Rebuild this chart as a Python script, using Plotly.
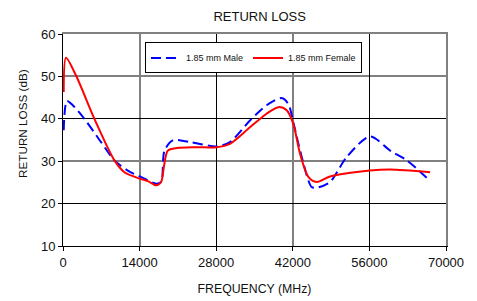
import plotly.graph_objects as go

# Data
freq_male = [130, 730, 1780, 3910, 6960, 9400, 11840, 14890, 17020, 17930, 18550, 20080,
             23190, 28070, 30500, 34170, 37220, 39960, 41180, 42090, 43630, 45450, 46370,
             48800, 51860, 56130, 59790, 62840, 67100]
rl_male = [37.3, 44.2, 43.2, 40.0, 34.5, 30.2, 27.8, 25.9, 24.7, 25.1, 32.5, 34.9,
           34.5, 33.5, 34.5, 39.6, 43.2, 44.9, 43.5, 39.2, 31.0, 23.9, 23.75,
           25.1, 31.0, 35.85, 32.5, 30.2, 25.3]

freq_female = [130, 550, 2380, 5740, 9400, 11230, 13980, 15500, 17020, 17930, 18430, 19160,
               20870, 24000, 28070, 30500, 34170, 37220, 39350, 40880, 42090, 43320, 44840,
               46370, 48800, 56130, 59790, 67100]
rl_female = [46.3, 54.4, 50.2, 40.0, 30.2, 27.4, 25.9, 25.3, 24.3, 25.1, 28.6, 32.5,
             33.1, 33.3, 33.3, 34.1, 38.0, 41.2, 42.75, 42.0, 38.8, 31.8, 26.3,
             25.1, 26.4, 27.8, 28.05, 27.4]

x_ticks = [0, 14000, 28000, 42000, 56000, 70000]
x_labels = ["0", "14000", "28000", "42000", "56000", "70000"]
y_ticks = [10, 20, 30, 40, 50, 60]
x_gray = [14000, 42000]
x_black = [28000, 56000]
y_gray = [30, 50]
y_black = [20, 40]
x_range = [0, 70000]
y_range = [10, 60]

FONT = "Liberation Sans, Arial, sans-serif"
TXT = "#111111"

fig = go.Figure()
# empty helper traces so the overlay grid axes are drawn
fig.add_trace(go.Scatter(x=[None], y=[None], xaxis="x2", yaxis="y2", showlegend=False,
                         hoverinfo="skip", mode="lines"))
fig.add_trace(go.Scatter(x=[None], y=[None], xaxis="x3", yaxis="y3", showlegend=False,
                         hoverinfo="skip", mode="lines"))
fig.add_trace(go.Scatter(x=freq_male, y=rl_male, name="1.85 mm Male", mode="lines",
                         line=dict(color="#0000ff", width=2, dash="10px,5px",
                                   shape="spline", smoothing=0.8)))
fig.add_trace(go.Scatter(x=freq_female, y=rl_female, name="1.85 mm Female", mode="lines",
                         line=dict(color="#ff0000", width=2, shape="spline", smoothing=0.8)))

fig.update_layout(
    width=469, height=293,
    margin=dict(l=55, r=31, t=25.5, b=55.3, autoexpand=False),
    paper_bgcolor="white", plot_bgcolor="white",
    font=dict(family=FONT, size=13, color=TXT),
    title=dict(text="RETURN LOSS", x=0.5367, xanchor="center",
               y=0.971, yanchor="middle", font=dict(size=13, color=TXT)),
    showlegend=True,
    legend=dict(orientation="h", x=0.214, y=0.96, xanchor="left", yanchor="top",
                bgcolor="white", bordercolor="black", borderwidth=1,
                font=dict(size=9, color=TXT), itemwidth=30,
                tracegroupgap=0),
    xaxis=dict(range=x_range, tickvals=x_ticks, ticktext=x_labels, showgrid=False,
               zeroline=False, automargin=False,
               showline=True, linecolor="black", linewidth=1,
               ticks="outside", ticklen=4, tickcolor="black",
               tickfont=dict(size=13, color=TXT),
               title=dict(text="FREQUENCY (MHz)", standoff=15, font=dict(size=12.3, color=TXT))),
    yaxis=dict(range=y_range, tickvals=y_ticks, showgrid=False, zeroline=False,
               automargin=False,
               showline=True, linecolor="black", linewidth=1,
               ticks="outside", ticklen=4, tickcolor="black",
               tickfont=dict(size=13, color=TXT)),
    xaxis2=dict(overlaying="x", side="top", range=x_range, tickvals=x_gray,
                showgrid=True, gridcolor="#808080", gridwidth=2, showticklabels=False,
                ticks="", zeroline=False, showline=True, linecolor="#808080", linewidth=2,
                automargin=False),
    yaxis2=dict(overlaying="y", side="right", range=y_range, tickvals=y_gray,
                showgrid=True, gridcolor="#808080", gridwidth=2, showticklabels=False,
                ticks="", zeroline=False, showline=True, linecolor="#808080", linewidth=2,
                automargin=False),
    xaxis3=dict(overlaying="x", range=x_range, tickvals=x_black,
                showgrid=True, gridcolor="black", gridwidth=1, showticklabels=False,
                ticks="", zeroline=False, showline=False, automargin=False),
    yaxis3=dict(overlaying="y", range=y_range, tickvals=y_black,
                showgrid=True, gridcolor="black", gridwidth=1, showticklabels=False,
                ticks="", zeroline=False, showline=False, automargin=False),
    annotations=[dict(text="RETURN LOSS (dB)", textangle=-90, xref="paper", yref="paper",
                      x=0, y=0.576, xanchor="center", yanchor="middle", xshift=-40,
                      showarrow=False, font=dict(size=11.7, color=TXT))],
)

fig.write_html("out.html")
